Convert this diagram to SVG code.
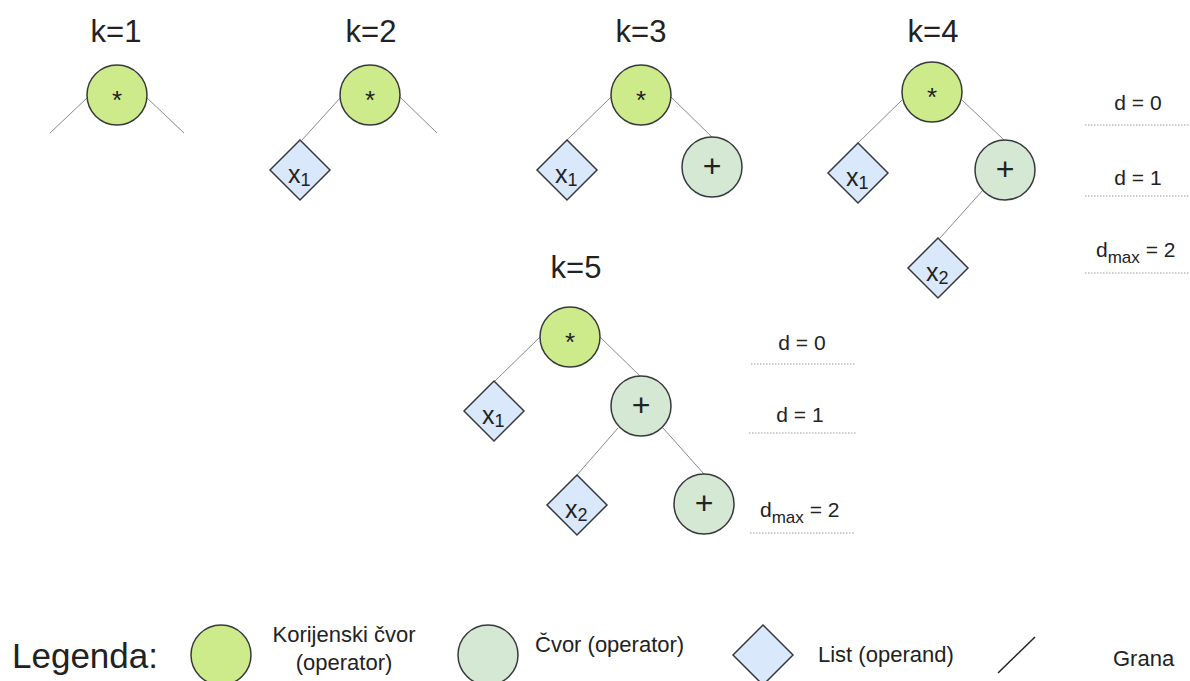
<svg xmlns="http://www.w3.org/2000/svg" width="1190" height="681" viewBox="0 0 1190 681">
<style>
text{font-family:"Liberation Sans",Arial,sans-serif;fill:#222}
.k{font-size:31px;text-anchor:middle}
.root{fill:#cdeb8b;stroke:#36393d;stroke-width:1.5}
.op{fill:#d5e8d4;stroke:#36393d;stroke-width:1.5}
.leaf{fill:#dae8fc;stroke:#36393d;stroke-width:1.5}
.sym{font-size:26px;text-anchor:middle}
.plus{font-size:32px;text-anchor:middle}
.lv{font-size:25px}
.sub{font-size:18px}
.edge{stroke:#888;stroke-width:1;fill:none}
.dot{stroke:#999;stroke-width:1;stroke-dasharray:1.5 1.5;fill:none}
.d{font-size:21px}
.ds{font-size:17px}
.lg{font-size:22px}
</style>
<defs>
<polygon id="dia" points="0,-30 30,0 0,30 -30,0"/>
</defs>

<g id="labels">
<text class="k" x="116" y="42">k=1</text>
<text class="k" x="371" y="42">k=2</text>
<text class="k" x="641" y="42">k=3</text>
<text class="k" x="933" y="42">k=4</text>
<text class="k" x="576" y="278">k=5</text>
</g>

<g id="connectors">
<line class="edge" x1="88" y1="97" x2="50" y2="133"/>
<line class="edge" x1="146" y1="97" x2="184" y2="133"/>
<line class="edge" x1="341" y1="97" x2="302" y2="140"/>
<line class="edge" x1="400" y1="97" x2="437" y2="133"/>
<line class="edge" x1="611" y1="97" x2="567" y2="140"/>
<line class="edge" x1="671" y1="97" x2="712" y2="137"/>
<line class="edge" x1="902" y1="100" x2="858" y2="143"/>
<line class="edge" x1="962" y1="100" x2="1004" y2="140"/>
<line class="edge" x1="983" y1="190" x2="940" y2="238"/>
<line class="edge" x1="540" y1="337" x2="495" y2="381"/>
<line class="edge" x1="600" y1="337" x2="640" y2="376"/>
<line class="edge" x1="618" y1="428" x2="577" y2="475"/>
<line class="edge" x1="663" y1="428" x2="704" y2="474"/>
</g>

<g id="k1-root"><circle class="root" cx="117" cy="95" r="30"/><text class="sym" x="117" y="109">*</text></g>

<g id="k2-root"><circle class="root" cx="370" cy="95" r="30"/><text class="sym" x="370" y="109">*</text></g>
<g id="k2-x1"><use href="#dia" class="leaf" x="300" y="170"/><text x="288" y="183"><tspan class="lv">x</tspan><tspan class="sub" dy="3">1</tspan></text></g>

<g id="k3-root"><circle class="root" cx="641" cy="95" r="30"/><text class="sym" x="641" y="109">*</text></g>
<g id="k3-x1"><use href="#dia" class="leaf" x="567" y="170"/><text x="555" y="183"><tspan class="lv">x</tspan><tspan class="sub" dy="3">1</tspan></text></g>
<g id="k3-plus"><circle class="op" cx="712" cy="167" r="30"/><text class="plus" x="712" y="177">+</text></g>

<g id="k4-root"><circle class="root" cx="932" cy="92" r="30"/><text class="sym" x="932" y="106">*</text></g>
<g id="k4-x1"><use href="#dia" class="leaf" x="858" y="173"/><text x="846" y="186"><tspan class="lv">x</tspan><tspan class="sub" dy="3">1</tspan></text></g>
<g id="k4-plus"><circle class="op" cx="1005" cy="170" r="30"/><text class="plus" x="1005" y="180">+</text></g>
<g id="k4-x2"><use href="#dia" class="leaf" x="938" y="268"/><text x="926" y="281"><tspan class="lv">x</tspan><tspan class="sub" dy="3">2</tspan></text></g>

<g id="k4-depth">
<text class="d" x="1138" y="110" text-anchor="middle">d = 0</text>
<line class="dot" x1="1085" y1="125" x2="1190" y2="125"/>
<text class="d" x="1138" y="185" text-anchor="middle">d = 1</text>
<line class="dot" x1="1085" y1="196" x2="1190" y2="196"/>
<text class="d" x="1096" y="257">d<tspan class="ds" dy="6">max</tspan><tspan dy="-6"> = 2</tspan></text>
<line class="dot" x1="1085" y1="273" x2="1190" y2="273"/>
</g>

<g id="k5-root"><circle class="root" cx="570" cy="337" r="30"/><text class="sym" x="570" y="351">*</text></g>
<g id="k5-x1"><use href="#dia" class="leaf" x="494" y="411"/><text x="482" y="424"><tspan class="lv">x</tspan><tspan class="sub" dy="3">1</tspan></text></g>
<g id="k5-plus1"><circle class="op" cx="641" cy="406" r="30"/><text class="plus" x="641" y="416">+</text></g>
<g id="k5-x2"><use href="#dia" class="leaf" x="577" y="505"/><text x="565" y="518"><tspan class="lv">x</tspan><tspan class="sub" dy="3">2</tspan></text></g>
<g id="k5-plus2"><circle class="op" cx="704" cy="504" r="30"/><text class="plus" x="704" y="514">+</text></g>

<g id="k5-depth">
<text class="d" x="802" y="350" text-anchor="middle">d = 0</text>
<line class="dot" x1="751" y1="364" x2="856" y2="364"/>
<text class="d" x="800" y="422" text-anchor="middle">d = 1</text>
<line class="dot" x1="749" y1="433" x2="856" y2="433"/>
<text class="d" x="760" y="517">d<tspan class="ds" dy="6">max</tspan><tspan dy="-6"> = 2</tspan></text>
<line class="dot" x1="750" y1="533" x2="855" y2="533"/>
</g>

<g id="legend">
<text x="12" y="668" style="font-size:35px">Legenda:</text>
<circle class="root" cx="221" cy="655" r="30"/>
<text class="lg" x="344" y="642" text-anchor="middle">Korijenski čvor</text>
<text class="lg" x="344" y="670" text-anchor="middle">(operator)</text>
<circle class="op" cx="488" cy="655" r="30"/>
<text class="lg" x="535" y="652">Čvor (operator)</text>
<use href="#dia" class="leaf" x="763" y="655"/>
<text class="lg" x="818" y="662">List (operand)</text>
<line x1="998" y1="673" x2="1035" y2="637" stroke="#222" stroke-width="1.5"/>
<text class="lg" x="1113" y="666">Grana</text>
</g>
</svg>
